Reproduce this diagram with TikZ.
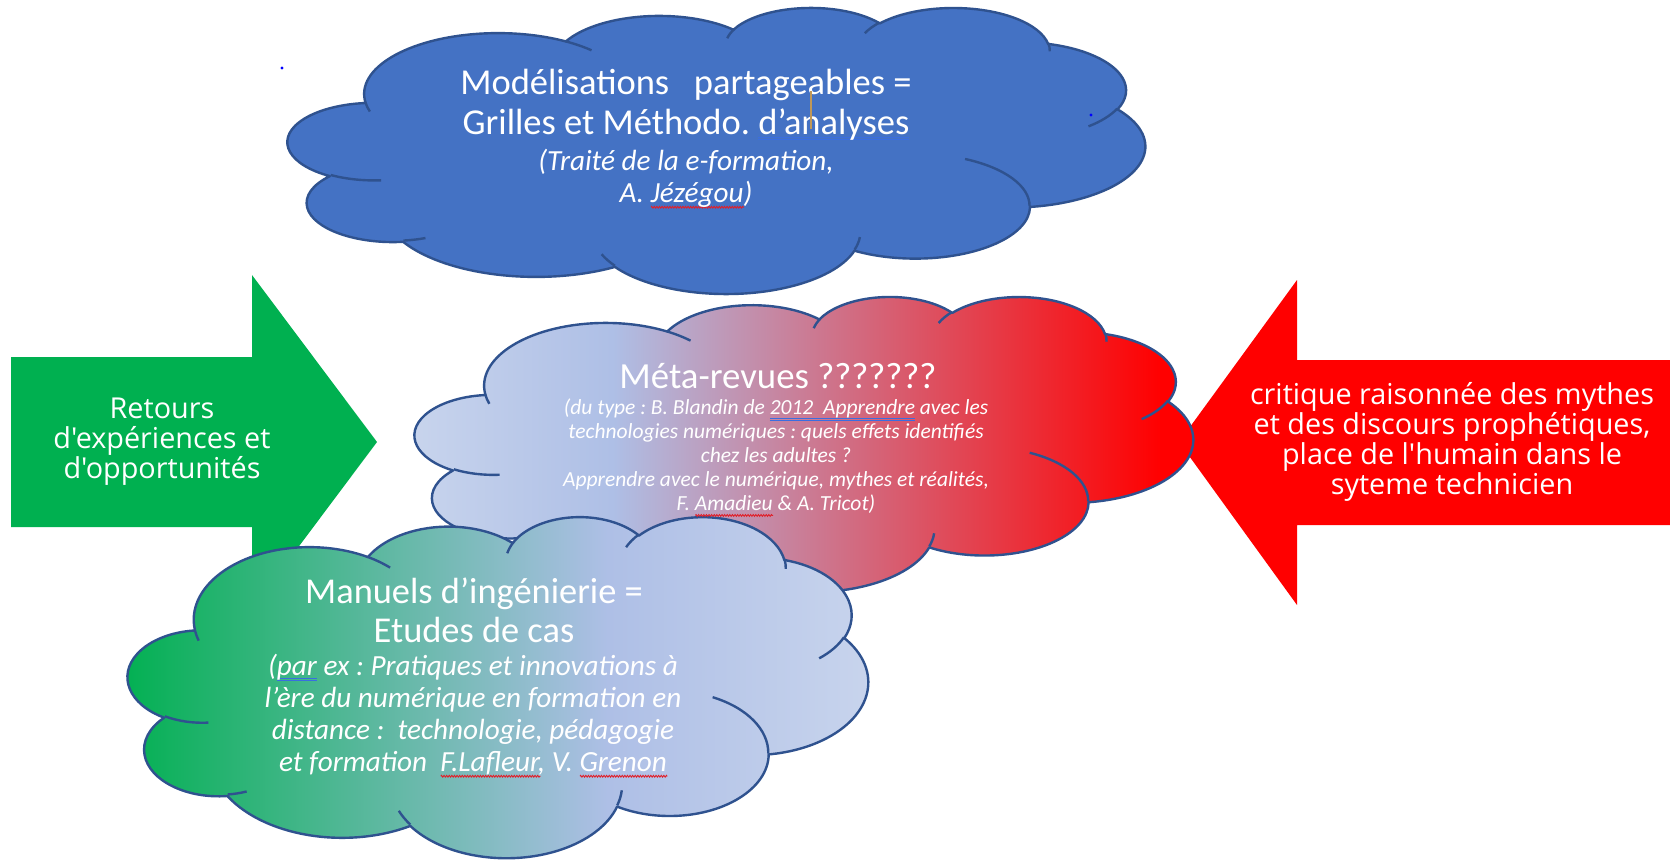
\documentclass[tikz,border=0pt]{standalone}
\usepackage{fontspec}
\setmainfont{Carlito}
\newfontfamily\arrowfont{Open Sans}
\usepackage{tikz}
\usetikzlibrary{decorations.pathmorphing}
\frenchspacing

\definecolor{cloudblue}{HTML}{4472C4}
\definecolor{cloudline}{HTML}{2F528F}
\definecolor{paleblue}{HTML}{C9D5ED}
\definecolor{liteblue}{HTML}{AEBFE6}
\definecolor{arrowgreen}{HTML}{00B050}
\definecolor{arrowred}{HTML}{FF0000}
\definecolor{spellblue}{HTML}{3A6EE0}
\definecolor{spellred}{HTML}{E0202A}
\definecolor{cursortan}{HTML}{C09858}

\pgfdeclarehorizontalshading{metashade}{100bp}{color(0bp)=(paleblue); color(25bp)=(paleblue); color(38bp)=(liteblue); color(72bp)=(arrowred); color(100bp)=(arrowred)}
\pgfdeclarehorizontalshading{manushade}{100bp}{color(0bp)=(arrowgreen); color(25bp)=(arrowgreen); color(57bp)=(liteblue); color(75bp)=(paleblue); color(100bp)=(paleblue)}

\tikzset{
  ooarc/.style n args={4}{x radius=#1, y radius=#2,
    start angle={atan2(#1*sin(#3),#2*cos(#3))},
    delta angle={mod(atan2(#1*sin(#3+#4),#2*cos(#3+#4))-atan2(#1*sin(#3),#2*cos(#3))+720,360)}},
  cloudedge/.style={draw=cloudline, line width=2.4pt, line join=round},
  cloudtext/.style={text=white, align=center, inner sep=0pt},
  arrowtext/.style={text=white, align=center, inner sep=0pt, font=\arrowfont\fontsize{28.8}{30}\selectfont}
}

\newlength\spellwd
\newcommand{\spelldouble}[1]{\settowidth\spellwd{#1}\rlap{\textcolor{spellblue}{\rule[-3.5pt]{\spellwd}{0.9pt}}}\rlap{\textcolor{spellblue}{\rule[-5.5pt]{\spellwd}{0.9pt}}}#1}
\newcommand{\spellwave}[1]{\settowidth\spellwd{#1}\rlap{\tikz[baseline=0pt]\draw[spellred, line width=0.9pt, decorate, decoration={zigzag, amplitude=0.9pt, segment length=2.6pt}] (0pt,-4.5pt) -- (\spellwd,-4.5pt);}#1}

\newcommand{\officecloud}[5]{%
  \pgfmathsetmacro\cloudw{#3/432}\pgfmathsetmacro\cloudh{#4/432}%
  \begin{scope}[shift={(#1,-#2)}, x=\cloudw pt, y=-\cloudh pt]
  \draw[cloudedge,#5] (39.00,143.70)
    arc[ooarc={67.53}{91.90}{-190.4875}{123.7805}]
    arc[ooarc={53.33}{72.67}{-144.1024}{89.9452}]
    arc[ooarc={43.65}{59.45}{-145.8079}{99.7230}]
    arc[ooarc={48.57}{65.95}{-130.9861}{117.2417}]
    arc[ooarc={53.33}{72.73}{-78.7089}{109.0269}]
    arc[ooarc={67.75}{92.20}{-46.2673}{130.2690}]
    arc[ooarc={57.85}{78.67}{0.6250}{114.0333}]
    arc[ooarc={67.52}{92.15}{22.4516}{115.1726}]
    arc[ooarc={77.20}{105.43}{66.2426}{75.7110}]
    arc[ooarc={43.60}{59.18}{-274.9421}{146.7356}]
    arc[ooarc={43.45}{59.45}{-246.8285}{152.5189}] -- cycle;
  \draw[cloudedge]
    (46.93,261.77) arc[ooarc={43.45}{59.45}{86.7420}{26.4295}]
    (69.28,348.99) arc[ooarc={43.60}{59.18}{73.6105}{11.4475}]
    (164.78,390.90) arc[ooarc={67.52}{92.15}{137.6242}{14.0811}]
    (288.27,347.51) arc[ooarc={67.52}{92.15}{6.4533}{15.9984}]
    (341.29,229.54) arc[ooarc={57.85}{78.67}{-70.2924}{70.9174}]
    (417.98,153.54) arc[ooarc={53.33}{72.73}{30.3180}{27.7515}]
    (383.24,54.26) arc[ooarc={48.57}{65.95}{-13.7443}{14.8589}]
    (290.78,39.52) arc[ooarc={48.57}{65.95}{-149.1815}{18.1954}]
    (221.41,47.20) arc[ooarc={43.65}{59.45}{-163.4943}{17.6868}]
    (140.00,51.92) arc[ooarc={67.53}{91.90}{-66.7070}{12.3194}]
    (41.27,157.89) arc[ooarc={67.53}{91.90}{157.6544}{11.8582}];
  \end{scope}}

\begin{document}
\begin{tikzpicture}[x=1pt,y=1pt]
\useasboundingbox[fill=white] (0,0) rectangle (1670,-860);
\fill[arrowgreen] (11,-357) -- (252,-357) -- (252,-275) -- (377,-442) -- (252,-609) -- (252,-527) -- (11,-527) -- cycle;
\fill[arrowred] (1670,-360) -- (1297,-360) -- (1297,-280) -- (1179,-442) -- (1297,-605) -- (1297,-525) -- (1670,-525) -- cycle;
\officecloud{415}{296}{778}{295}{shading=metashade}
\officecloud{128}{516}{740}{341}{shading=manushade}
\officecloud{288}{7}{857}{286}{fill=cloudblue}
\fill[blue] (282,-68) circle (1.6);
\fill[blue] (1091,-115) circle (1.6);
\node[cloudtext, font=\fontsize{36.5}{40}\selectfont] (modeltitle) at (686,-105) {Modélisations\ \ \ partageables =\\Grilles et Méthodo. \spelldouble{d’analyses}};
\node[cloudtext, font=\itshape\fontsize{29.2}{32}\selectfont] (modelref) at (686,-179) {(Traité de la e-formation,\\A. \spellwave{Jézégou})};
\draw[cursortan, line width=1.6pt] (811,-91) -- (811,-129);
\node[cloudtext, font=\fontsize{36.8}{40}\selectfont] (metatitle) at (778,-376) {Méta-revues ???????};
\node[cloudtext, font=\itshape\fontsize{21.5}{24}\selectfont] (metaref) at (776,-458) {(du type : B. Blandin de \spelldouble{2012\ \ Apprendre} avec les\\technologies numériques : quels effets identifiés\\chez les adultes ?\\Apprendre avec le numérique, mythes et réalités,\\F. \spellwave{Amadieu} \& A. Tricot)};
\node[cloudtext, font=\fontsize{36.4}{39}\selectfont] (manutitle) at (474,-610) {Manuels d’ingénierie =\\Etudes de cas};
\node[cloudtext, font=\itshape\fontsize{29.2}{32}\selectfont] (manuref) at (473,-716) {(\spelldouble{par} ex : Pratiques et innovations à\\l’ère du numérique en formation en\\distance :\ \ technologie, pédagogie\\et formation\ \ \spellwave{F.Lafleur}, V. \spellwave{Grenon}};
\node[arrowtext] (retours) at (162,-442) {Retours\\d'expériences et\\d'opportunités};
\node[arrowtext] (critique) at (1452,-442) {critique raisonnée des mythes\\et des discours prophétiques,\\place de l'humain dans le\\syteme technicien};
\end{tikzpicture}
\end{document}
